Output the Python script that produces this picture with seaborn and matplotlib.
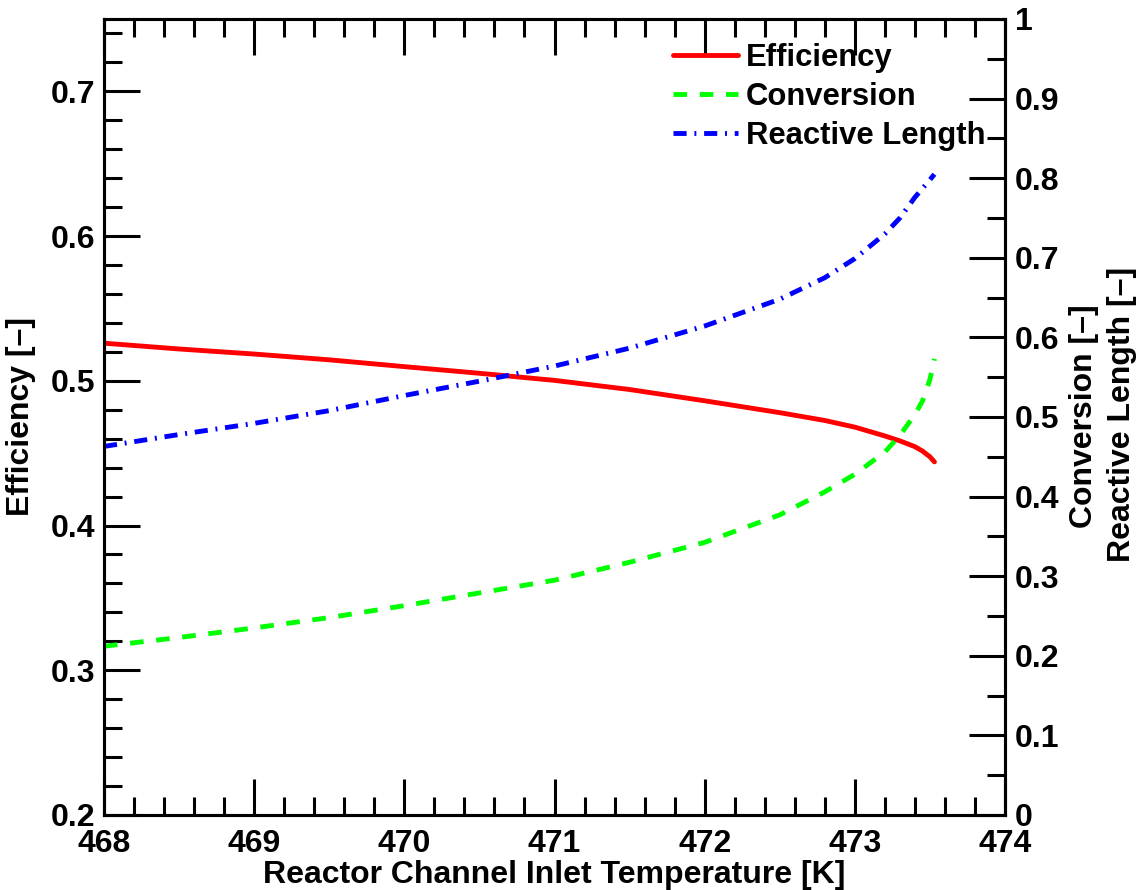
import matplotlib.pyplot as plt
import matplotlib.ticker as mticker
import seaborn as sns
import pandas as pd


# Values

temperature = [468.0, 468.5, 469.0, 469.5, 470.0, 470.5, 471.0, 471.5, 472.0,
               472.5, 472.8, 473.0, 473.2, 473.3, 473.4, 473.45, 473.5, 473.53]

efficiency = [0.526, 0.522, 0.5185, 0.5145, 0.5098, 0.5052, 0.5003, 0.4940, 0.4862,
              0.4780, 0.4726, 0.4680, 0.4619, 0.4585, 0.4545, 0.4515, 0.4475, 0.444]

conversion = [0.212, 0.223, 0.235, 0.248, 0.263, 0.279, 0.295, 0.3175, 0.3425,
              0.377, 0.406, 0.428, 0.456, 0.477, 0.503, 0.520, 0.547, 0.573]

reactiveLength = [0.463, 0.478, 0.492, 0.508, 0.527, 0.545, 0.564, 0.5865, 0.6143,
                  0.648, 0.675, 0.699, 0.730, 0.750, 0.776, 0.787, 0.798, 0.805]

fontSize = 23
legendFontSize = 22.3


sns.set_theme(style="ticks")
plt.rcParams['font.family'] = ['Liberation Sans', 'DejaVu Sans']
plt.rcParams['font.weight'] = 'bold'
plt.rcParams['axes.labelweight'] = 'bold'
plt.rcParams['text.color'] = 'black'
plt.rcParams['axes.labelcolor'] = 'black'

df = pd.DataFrame({"T": temperature,
                   "Efficiency": efficiency,
                   "Conversion": conversion,
                   "Reactive Length": reactiveLength})

fig = plt.figure(figsize=(11.39, 8.90), dpi=100)
ax = fig.add_axes([104 / 1139, 75 / 890, 901 / 1139, 796 / 890])

sns.lineplot(ax=ax, data=df, x="T", y="Efficiency", color="#ff0000",
             linewidth=3.5, label="Efficiency")
ax2 = ax.twinx()
sns.lineplot(ax=ax2, data=df, x="T", y="Conversion", color="#00ff00",
             linewidth=3.5, linestyle=(0, (2.8, 2.6)), label="Conversion")
sns.lineplot(ax=ax2, data=df, x="T", y="Reactive Length", color="#0000ff",
             linewidth=3.5, linestyle=(0, (2.7, 1.6, 0.4, 1.6)), label="Reactive Length")

for a in (ax, ax2):
  if a.get_legend() is not None:
    a.get_legend().remove()
  for s in a.spines.values():
    s.set_linewidth(2.2)
    s.set_color("black")

# Axis ranges and ticks (ROOT-like, ticks inside)
ax.set_xlim(468, 474)
ax.set_ylim(0.2, 0.75)
ax2.set_ylim(0, 1)

ax.xaxis.set_major_locator(mticker.MultipleLocator(1))
ax.xaxis.set_minor_locator(mticker.MultipleLocator(0.2))
ax.yaxis.set_major_locator(mticker.MultipleLocator(0.1))
ax.yaxis.set_minor_locator(mticker.MultipleLocator(0.02))
ax2.yaxis.set_major_locator(mticker.MultipleLocator(0.1))
ax2.yaxis.set_minor_locator(mticker.MultipleLocator(0.05))
ax.xaxis.set_major_formatter(mticker.FormatStrFormatter('%g'))
ax.yaxis.set_major_formatter(mticker.FormatStrFormatter('%g'))
ax2.yaxis.set_major_formatter(mticker.FormatStrFormatter('%g'))

ax.tick_params(axis='both', which='both', direction='in', width=2.2,
               colors='black', labelsize=fontSize, top=True, right=False)
ax.tick_params(which='major', length=26)
ax.tick_params(which='minor', length=13)
ax.tick_params(axis='x', pad=10)
ax.tick_params(axis='y', pad=6)
ax2.tick_params(axis='y', which='both', direction='in', width=2.2,
                colors='black', labelsize=fontSize, pad=7)
ax2.tick_params(axis='y', which='major', length=26)
ax2.tick_params(axis='y', which='minor', length=13)

# Labels
ax.set_xlabel("Reactor Channel Inlet Temperature [K]", fontsize=fontSize, fontweight='bold')
ax.xaxis.set_label_coords(0.5, -0.057)
ax.set_ylabel("Efficiency [–]", fontsize=fontSize, fontweight='bold')
ax.yaxis.set_label_coords(-0.0755, 0.5)
ax2.set_ylabel("")
fig.text(1084 / 1139, 1 - 416 / 890, "Conversion [–]", rotation=90,
         ha='center', va='center', fontsize=fontSize, fontweight='bold')
fig.text(1122 / 1139, 1 - 414 / 890, "Reactive Length [–]", rotation=90,
         ha='center', va='center', fontsize=fontSize, fontweight='bold')

# Legend combining both axes
h1, l1 = ax.get_legend_handles_labels()
h2, l2 = ax2.get_legend_handles_labels()
ax2.legend(h1 + h2, l1 + l2, loc='upper right', bbox_to_anchor=(0.978, 0.970),
           frameon=False, fontsize=legendFontSize, handlelength=2.1, handletextpad=0.26,
           labelspacing=0.29, borderpad=0, borderaxespad=0)

fig.savefig("out.png", dpi=100)
